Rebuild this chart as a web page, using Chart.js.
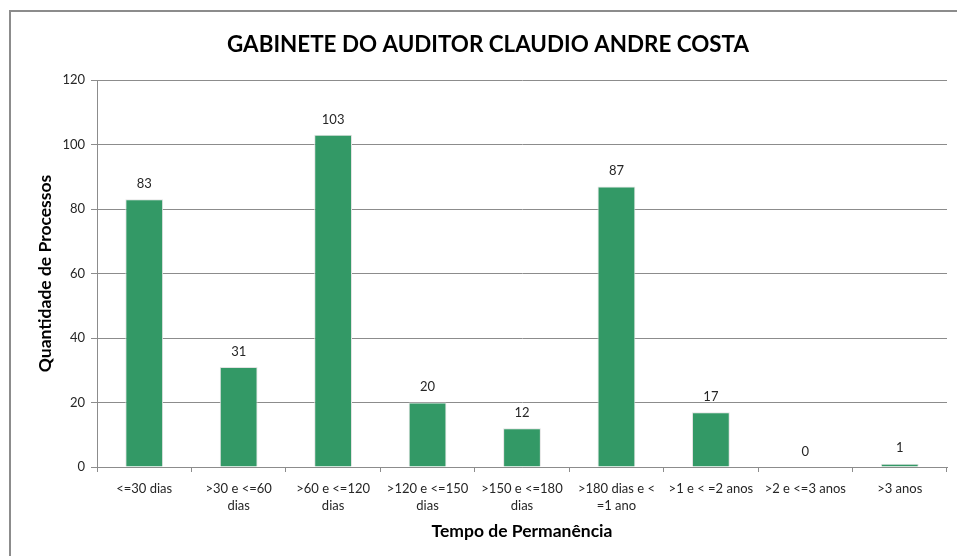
<!DOCTYPE html>
<html>
<head>
<meta charset="utf-8">
<script src="https://cdn.jsdelivr.net/npm/chart.js@4.4.1/dist/chart.umd.min.js"></script>
<style>
    html, body { margin: 0; padding: 0; background: #fff; overflow: hidden; }
    #frame { position: absolute; left: 9px; top: 10px; width: 970px; height: 580px; border: 2px solid #8c8c8c; }
    #wrap { position: absolute; left: 0; top: 0; width: 957px; height: 556px; }
</style>
</head>
<body>
<div id="frame"></div>
<div id="wrap"><canvas id="tempoChart" width="957" height="556"></canvas></div>

<script>
    // Dados do gráfico
    const titulo = 'GABINETE DO AUDITOR CLAUDIO ANDRE COSTA';
    const categorias = [
        '<=30 dias',
        ['>30 e <=60', 'dias'],
        ['>60 e <=120', 'dias'],
        ['>120 e <=150', 'dias'],
        ['>150 e <=180', 'dias'],
        ['>180 dias e <', '=1 ano'],
        '>1 e < =2 anos',
        '>2 e <=3 anos',
        '>3 anos'
    ];
    const quantidades = [83, 31, 103, 20, 12, 87, 17, 0, 1];
    const yMin = 0, yMax = 120, yPasso = 20;

    const fonte = 'Lato, "Open Sans", sans-serif';

    // Título do gráfico (centralizado no quadro, não no canvas)
    const tituloPlugin = {
        id: 'tituloPlugin',
        afterDraw(chart) {
            const ctx = chart.ctx;
            ctx.save();
            ctx.font = 'bold 22.4px ' + fonte;
            ctx.fillStyle = '#000';
            ctx.textAlign = 'center';
            ctx.textBaseline = 'middle';
            ctx.fillText(titulo, 488, 45);
            ctx.restore();
        }
    };

    // Rótulos de valor acima das barras
    const rotulosValor = {
        id: 'rotulosValor',
        afterDatasetsDraw(chart) {
            const ctx = chart.ctx;
            const meta = chart.getDatasetMeta(0);
            ctx.save();
            ctx.font = '13px ' + fonte;
            ctx.fillStyle = '#262626';
            ctx.textAlign = 'center';
            ctx.textBaseline = 'bottom';
            meta.data.forEach((bar, i) => {
                ctx.fillText(String(quantidades[i]), bar.x, bar.y - 9);
            });
            ctx.restore();
        }
    };

    const config = {
        type: 'bar',
        data: {
            labels: categorias,
            datasets: [{
                data: quantidades,
                backgroundColor: '#339966',
                borderColor: '#e2e2e2',
                borderWidth: 1,
                categoryPercentage: 1,
                barPercentage: 0.4
            }]
        },
        options: {
            responsive: false,
            animation: false,
            layout: { padding: { left: 0, right: 10, top: 80, bottom: 0 } },
            plugins: {
                legend: { display: false },
                tooltip: { enabled: false },
                title: { display: false }
            },
            scales: {
                x: {
                    afterFit(scale) { scale.height = 89; },
                    grid: { display: true, drawOnChartArea: false, drawTicks: true, tickLength: 5, offset: true, color: '#8c8c8c' },
                    border: { display: true, color: '#8c8c8c' },
                    ticks: { color: '#262626', font: { family: fonte, size: 13, lineHeight: 1.25 }, padding: 9, maxRotation: 0, autoSkip: false },
                    title: {
                        display: true,
                        text: 'Tempo de Permanência',
                        color: '#000',
                        font: { family: fonte, size: 17.5, weight: 'bold', lineHeight: 1.2 },
                        padding: { top: 0, bottom: 14.5 }
                    }
                },
                y: {
                    min: yMin,
                    max: yMax,
                    afterFit(scale) { scale.width = 97; },
                    grid: { color: '#8c8c8c', tickLength: 6 },
                    border: { display: true, color: '#8c8c8c' },
                    ticks: { stepSize: yPasso, color: '#262626', font: { family: fonte, size: 13 }, padding: 6 },
                    title: {
                        display: true,
                        text: 'Quantidade de Processos',
                        color: '#000',
                        font: { family: fonte, size: 17.5, weight: 'bold', lineHeight: 1.2 },
                        padding: { top: 34.5, bottom: 0 }
                    }
                }
            }
        },
        plugins: [rotulosValor, tituloPlugin]
    };

    new Chart(document.getElementById('tempoChart'), config);
</script>
</body>
</html>
